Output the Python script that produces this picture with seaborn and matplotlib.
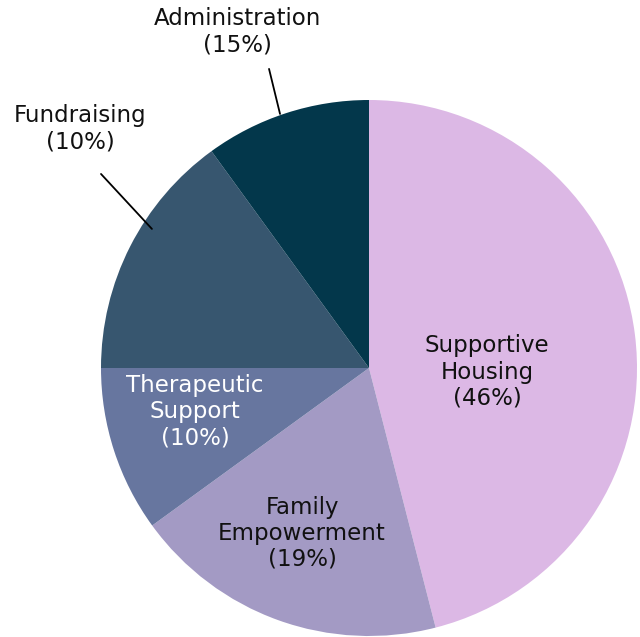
import matplotlib
matplotlib.use("Agg")
import matplotlib.pyplot as plt
import seaborn as sns

# slice data, clockwise from 12 o'clock
names = ["Supportive\nHousing", "Family\nEmpowerment", "Therapeutic\nSupport", "Fundraising", "Administration"]
values = [46, 19, 10, 15, 10]
pct_labels = ["(46%)", "(19%)", "(10%)", "(10%)", "(15%)"]
colors = ["#dcb8e5", "#a39ac4", "#67769f", "#37566f", "#03374b"]
text_colors = ["#111111", "#111111", "#ffffff", "#111111", "#111111"]

# label anchor positions (pie radius = 1)
label_pos = [(0.44, -0.015), (-0.25, -0.616), (-0.649, -0.164), (-1.078, 0.892), (-0.4925, 1.254)]
leaders = {3: [(-1.0, 0.724), (-0.81, 0.519)], 4: [(-0.373, 1.116), (-0.332, 0.948)]}

sns.set_theme(style="white")
plt.rcParams["font.family"] = ["DejaVu Sans"]

fig = plt.figure(figsize=(6.4, 6.37), dpi=100)
ax = fig.add_axes([(369 - 268) / 640, 1 - (368 + 268) / 637, 536 / 640, 536 / 637])

ax.pie(values, colors=sns.color_palette(colors), startangle=90, counterclock=False,
       radius=1, wedgeprops=dict(linewidth=0))
ax.set_xlim(-1, 1)
ax.set_ylim(-1, 1)
ax.set_aspect("equal")
ax.axis("off")

for i, (name, pct) in enumerate(zip(names, pct_labels)):
    x, y = label_pos[i]
    ax.text(x, y, f"{name}\n{pct}", ha="center", va="center", fontsize=16.5,
            color=text_colors[i], linespacing=1.17, clip_on=False)

for i, pts in leaders.items():
    (x0, y0), (x1, y1) = pts
    ax.plot([x0, x1], [y0, y1], color="black", lw=1.3, clip_on=False)

fig.savefig("out.png", dpi=100, facecolor="white")
